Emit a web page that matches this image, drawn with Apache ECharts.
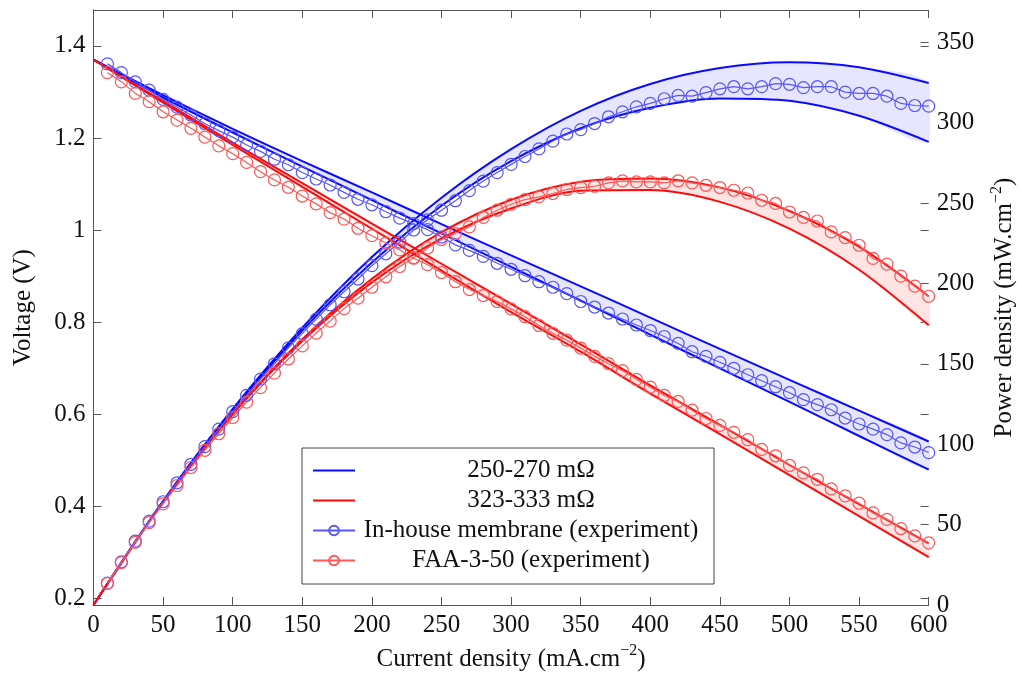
<!DOCTYPE html>
<html>
<head>
<meta charset="utf-8">
<script src="https://cdn.jsdelivr.net/npm/echarts@6/dist/echarts.min.js"></script>
<style>
  html, body { margin: 0; padding: 0; background: #fff; }
  #chart { width: 1022px; height: 680px; }
</style>
</head>
<body>
<div id="chart"></div>
<script>
// experiment: current density (mA/cm2)
const current = [10, 20, 30, 40, 50, 60, 70, 80, 90, 100,
    110, 120, 130, 140, 150, 160, 170, 180, 190, 200,
    210, 220, 230, 240, 250, 260, 270, 280, 290, 300,
    310, 320, 330, 340, 350, 360, 370, 380, 390, 400,
    410, 420, 430, 440, 450, 460, 470, 480, 490, 500,
    510, 520, 530, 540, 550, 560, 570, 580, 590, 600];

// in-house membrane, measured
const inHouseVoltage = [1.361, 1.342, 1.322, 1.304, 1.284, 1.267, 1.250, 1.231, 1.216, 1.202,
    1.185, 1.171, 1.154, 1.142, 1.125, 1.111, 1.098, 1.082, 1.067, 1.055,
    1.040, 1.026, 1.014, 1.001, 0.985, 0.968, 0.956, 0.943, 0.928, 0.915,
    0.901, 0.888, 0.876, 0.862, 0.845, 0.833, 0.820, 0.807, 0.794, 0.782,
    0.769, 0.754, 0.736, 0.726, 0.713, 0.700, 0.686, 0.673, 0.660, 0.647,
    0.632, 0.621, 0.610, 0.592, 0.579, 0.568, 0.556, 0.538, 0.529, 0.517];
const inHousePower = [13.6, 26.8, 39.7, 52.2, 64.2, 76.0, 87.5, 98.5, 109.4, 120.2,
    130.4, 140.5, 150.0, 159.9, 168.8, 177.8, 186.7, 194.8, 202.7, 211.0,
    218.4, 225.7, 233.2, 239.5, 245.5, 251.4, 257.7, 263.6, 268.9, 274.0,
    278.9, 283.6, 288.5, 292.9, 295.6, 299.4, 303.6, 306.7, 309.8, 311.9,
    314.8, 316.9, 316.4, 318.6, 321.0, 322.3, 321.0, 322.3, 324.2, 323.8,
    321.7, 322.3, 322.3, 318.9, 318.1, 318.1, 316.4, 311.9, 310.6, 310.2];

// FAA-3-50, measured
const faaVoltage = [1.342, 1.322, 1.297, 1.279, 1.257, 1.239, 1.221, 1.202, 1.183, 1.166,
    1.147, 1.127, 1.109, 1.093, 1.074, 1.057, 1.038, 1.024, 1.004, 0.988,
    0.972, 0.957, 0.939, 0.925, 0.908, 0.888, 0.871, 0.858, 0.845, 0.829,
    0.812, 0.793, 0.776, 0.761, 0.744, 0.726, 0.710, 0.695, 0.676, 0.659,
    0.641, 0.628, 0.609, 0.591, 0.576, 0.561, 0.545, 0.524, 0.510, 0.489,
    0.473, 0.459, 0.438, 0.423, 0.407, 0.386, 0.372, 0.352, 0.336, 0.321];
const faaPower = [13.4, 26.4, 38.9, 51.2, 62.9, 74.3, 85.5, 96.2, 106.5, 116.6,
    126.2, 135.2, 144.2, 153.0, 161.1, 169.1, 176.5, 184.3, 190.8, 197.6,
    204.1, 210.5, 216.0, 222.0, 227.3, 231.0, 235.1, 241.0, 245.5, 249.2,
    252.1, 253.8, 255.9, 258.4, 259.6, 260.4, 262.5, 263.7, 263.1, 263.1,
    262.5, 263.8, 262.5, 261.0, 259.6, 257.9, 256.2, 251.7, 249.7, 244.4,
    241.0, 238.8, 232.0, 228.5, 223.7, 215.5, 212.0, 204.5, 198.3, 192.0];

// model bands
const modelCurrent = [0, 50, 100, 150, 200, 250, 300, 350, 400, 450, 500, 550, 600];
const lowRVoltageHi = [1.370, 1.293, 1.220, 1.150, 1.082, 1.013, 0.945, 0.878, 0.810, 0.742, 0.675, 0.608, 0.541];
const lowRVoltageLo = [1.370, 1.288, 1.212, 1.138, 1.065, 0.993, 0.920, 0.847, 0.773, 0.700, 0.627, 0.553, 0.480];
const lowRPowerHi = [0, 64.7, 122.0, 172.5, 216.4, 253.3, 283.5, 307.3, 324.0, 333.9, 337.5, 334.4, 324.6];
const lowRPowerLo = [0, 64.4, 121.2, 170.7, 213.0, 248.3, 276.0, 296.5, 309.2, 315.0, 313.5, 304.2, 288.0];
const highRVoltageHi = [1.370, 1.280, 1.190, 1.102, 1.014, 0.927, 0.840, 0.752, 0.663, 0.577, 0.490, 0.405, 0.320];
const highRVoltageLo = [1.370, 1.277, 1.185, 1.094, 1.003, 0.912, 0.822, 0.736, 0.645, 0.557, 0.468, 0.379, 0.290];
const highRPowerHi = [0, 64.0, 119.0, 165.3, 202.8, 231.8, 252.0, 263.2, 265.2, 259.7, 245.0, 222.8, 192.0];
const highRPowerLo = [0, 63.9, 118.5, 164.1, 200.6, 228.0, 246.6, 257.6, 258.0, 250.7, 234.0, 208.5, 174.0];

const voltageTicks = [0.2, 0.4, 0.6, 0.8, 1, 1.2, 1.4];

const names = ['250-270 mΩ', '323-333 mΩ', 'In-house membrane (experiment)', 'FAA-3-50 (experiment)'];

const font = '"Liberation Serif", "DejaVu Serif", serif';
const axisColor = '#555';
const textColor = '#111';

const blue = '#0a0aff', red = '#ff0a0a';
const blueExp = '#5656ff', redExp = '#ff5656';
const blueFill = 'rgb(230,230,255)', redFill = 'rgb(255,228,228)';

const grid = { left: 93.5, right: 93.3, top: 10, bottom: 75, outerBoundsMode: 'none' };
// thin strips on the right frame, only used to draw its inward ticks
const voltTickGrid = { left: 928.7, width: 1, top: 46, bottom: 81.3, outerBoundsMode: 'none' };
const powerTickGrid = { left: 928.7, width: 1, top: 10, bottom: 75, outerBoundsMode: 'none' };

function pairs(xs, ys) {
    return xs.map((x, i) => [x, ys[i]]);
}

function modelLine(name, color, yAxisIndex, values) {
    return {
        name, type: 'line', yAxisIndex, smooth: 0.3,
        symbol: 'none', lineStyle: { color, width: 2 }, itemStyle: { color },
        data: pairs(modelCurrent, values), z: 3
    };
}

// filled region between the two model curves
function bandFill(fill, yAxisIndex, lo, hi) {
    return {
        type: 'custom', yAxisIndex, silent: true, clip: true, z: 2,
        data: modelCurrent.map((x, i) => [x, lo[i], hi[i]]),
        encode: { x: 0, y: [1, 2] },
        renderItem(params, api) {
            if (params.dataIndex !== 0) return;
            let top = modelCurrent.map((x, i) => api.coord([x, hi[i]]));
            let bottom = modelCurrent.map((x, i) => api.coord([x, lo[i]])).reverse();
            return {
                type: 'polygon',
                shape: { points: top.concat(bottom), smooth: 0.3 },
                style: { fill: fill, stroke: null }
            };
        }
    };
}

function measured(name, color, yAxisIndex, values) {
    return {
        name, type: 'line', yAxisIndex,
        symbol: 'circle', symbolSize: 12,
        itemStyle: { color: 'rgba(255,255,255,0)', borderColor: color, borderWidth: 1.2 },
        lineStyle: { color, width: 1.2 },
        data: pairs(current, values), z: 4
    };
}

function tickStyle(values, inside = true) {
    let t = { inside, length: 8, lineStyle: { color: axisColor, width: 1 } };
    if (values) t.customValues = values;
    return t;
}

function axisName(text) {
    return '{a|' + text + '}{s|−2}{a|)}';
}

const nameRich = {
    a: { fontFamily: font, fontSize: 25, color: textColor, lineHeight: 32 },
    s: { fontFamily: font, fontSize: 16, color: textColor, verticalAlign: 'top', lineHeight: 16 }
};

const labelStyle = { fontFamily: font, fontSize: 25, color: textColor, margin: 8 };

const chart = echarts.init(document.getElementById('chart'));

const option = {
    animation: false,
    backgroundColor: '#fff',
    grid: [grid, voltTickGrid, powerTickGrid],
    legend: {
        orient: 'vertical',
        left: 302, top: 448,
        padding: [10, 12, 11, 10],
        itemWidth: 42, itemHeight: 12, itemGap: 5,
        borderColor: '#444', borderWidth: 1,
        backgroundColor: '#fff',
        data: [
            { name: names[0], icon: 'path://M0,0H42V2H0Z', itemStyle: { color: blue } },
            { name: names[1], icon: 'path://M0,0H42V2H0Z', itemStyle: { color: red } },
            names[2],
            names[3]
        ],
        formatter: n => '{t|' + n + '}',
        textStyle: {
            fontFamily: font, fontSize: 25, lineHeight: 25, color: textColor,
            rich: {
                t: { width: 342, align: 'center', fontFamily: font, fontSize: 25, color: textColor, lineHeight: 25 }
            }
        }
    },
    xAxis: [
        {
            gridIndex: 0, type: 'value', position: 'bottom', min: 0, max: 600, interval: 50,
            name: axisName('Current density (mA.cm'),
            nameLocation: 'middle', nameGap: 38,
            nameTextStyle: { rich: nameRich },
            axisLine: { lineStyle: { color: axisColor } },
            axisTick: tickStyle(),
            axisLabel: labelStyle,
            splitLine: { show: false }
        },
        {
            gridIndex: 0, type: 'value', position: 'top', min: 0, max: 600, interval: 50,
            axisLine: { lineStyle: { color: axisColor } },
            axisTick: tickStyle(),
            axisLabel: { show: false },
            splitLine: { show: false }
        },
        { gridIndex: 1, type: 'value', min: 0, max: 1, show: false },
        { gridIndex: 2, type: 'value', min: 0, max: 1, show: false }
    ],
    yAxis: [
        {
            gridIndex: 0, type: 'value', position: 'left', min: 0.186, max: 1.478,
            name: 'Voltage (V)', nameLocation: 'middle', nameGap: 58,
            nameTextStyle: { fontFamily: font, fontSize: 25, color: textColor },
            axisLine: { show: true, lineStyle: { color: axisColor } },
            axisTick: tickStyle(voltageTicks),
            axisLabel: Object.assign({ customValues: voltageTicks }, labelStyle),
            splitLine: { show: false }
        },
        {
            gridIndex: 0, type: 'value', position: 'right', min: 0, max: 370, interval: 50,
            name: axisName('Power density (mW.cm'), nameLocation: 'middle', nameGap: 60,
            nameRotate: 90,
            nameTextStyle: { rich: nameRich },
            axisLine: { show: true, lineStyle: { color: axisColor } },
            axisTick: { show: false },
            axisLabel: Object.assign({ showMaxLabel: false }, labelStyle),
            splitLine: { show: false }
        },
        {
            // voltage ticks mirrored on the right frame, pointing into the plot
            gridIndex: 1, type: 'value', position: 'left', min: 0.2, max: 1.4, interval: 0.2,
            axisLine: { show: false },
            axisTick: tickStyle(null, false),
            axisLabel: { show: false },
            splitLine: { show: false }
        },
        {
            // power ticks on the right frame
            gridIndex: 2, type: 'value', position: 'left', min: 0, max: 370, interval: 50,
            axisLine: { show: false },
            axisTick: tickStyle(null, false),
            axisLabel: { show: false },
            splitLine: { show: false }
        }
    ],
    series: [
        bandFill(blueFill, 0, lowRVoltageLo, lowRVoltageHi),
        bandFill(blueFill, 1, lowRPowerLo, lowRPowerHi),
        bandFill(redFill, 0, highRVoltageLo, highRVoltageHi),
        bandFill(redFill, 1, highRPowerLo, highRPowerHi),
        modelLine(names[0], blue, 0, lowRVoltageLo),
        modelLine(names[0], blue, 0, lowRVoltageHi),
        modelLine(names[0], blue, 1, lowRPowerLo),
        modelLine(names[0], blue, 1, lowRPowerHi),
        modelLine(names[1], red, 0, highRVoltageLo),
        modelLine(names[1], red, 0, highRVoltageHi),
        modelLine(names[1], red, 1, highRPowerLo),
        modelLine(names[1], red, 1, highRPowerHi),
        measured(names[2], blueExp, 0, inHouseVoltage),
        measured(names[2], blueExp, 1, inHousePower),
        measured(names[3], redExp, 0, faaVoltage),
        measured(names[3], redExp, 1, faaPower)
    ]
};

chart.setOption(option);
</script>
</body>
</html>
